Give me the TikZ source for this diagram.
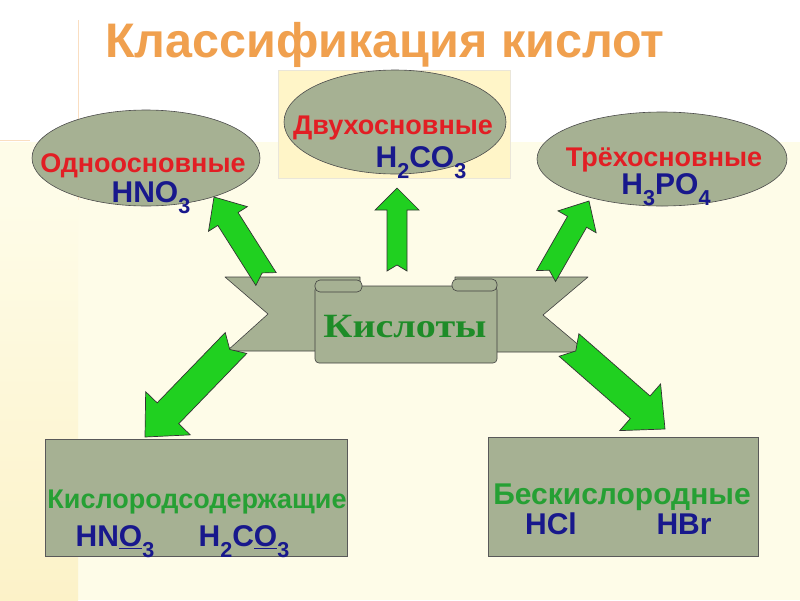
\documentclass[tikz,border=0pt]{standalone}
\usepackage{fontspec}
\setmainfont{Liberation Sans}
\newfontfamily\bannerfont{Liberation Serif}
\usepackage{graphicx}
\usetikzlibrary{positioning,shapes.geometric,calc}

\definecolor{sage}{RGB}{166,177,147}
\definecolor{cream}{RGB}{254,252,232}
\definecolor{paleyellow}{RGB}{252,242,200}
\definecolor{titleorange}{RGB}{240,160,78}
\definecolor{kindred}{RGB}{226,30,36}
\definecolor{navy}{RGB}{24,24,140}
\definecolor{acidgreen}{RGB}{38,160,52}
\definecolor{bannergreen}{RGB}{30,140,40}
\definecolor{arrowgreen}{RGB}{32,208,32}
\definecolor{boxyellow}{RGB}{255,245,200}

% subscript of a formula
\newcommand{\ix}[1]{\raisebox{-0.38em}{\scalebox{0.72}{#1}}}

% notched block arrow: tail, tip, shaft half width, head half width, head length
\newcommand{\greenarrow}[5]{%
  \coordinate (ga-b) at ($(#2)!#5!(#1)$);
  \draw[fatarrow]
    ($(#1)!#3!90:(#2)$) -- ($(ga-b)!#3!90:(#2)$) -- ($(ga-b)!#4!90:(#2)$) -- (#2)
    -- ($(ga-b)!#4!-90:(#2)$) -- ($(ga-b)!#3!-90:(#2)$) -- ($(#1)!#3!-90:(#2)$)
    -- ($(#1)!0.6*#3!(#2)$) -- cycle;
}

\tikzset{
  kind/.style={ellipse,draw=black!70,fill=sage,line width=0.6pt,inner sep=0pt},
  group/.style={rectangle,draw=black!65,fill=sage,line width=0.6pt,inner sep=0pt},
  kindname/.style={anchor=base,inner sep=0pt,text=kindred,font=\bfseries\fontsize{27}{27}\selectfont},
  formula/.style={anchor=base,inner sep=0pt,text=navy,font=\bfseries\fontsize{30}{30}\selectfont},
  groupname/.style={anchor=base,inner sep=0pt,text=acidgreen,font=\bfseries\fontsize{27}{27}\selectfont},
  bannerpart/.style={draw=black!75,fill=sage,line width=0.6pt,line join=round},
  fatarrow/.style={draw=black!80,fill=arrowgreen,line width=0.7pt,line join=miter}
}

\begin{document}
\begin{tikzpicture}[x=1pt,y=-1pt]
  \useasboundingbox (0,0) rectangle (800,600);
  % background
  \fill[white] (0,0) rectangle (800,600);
  \fill[cream] (0,142) rectangle (800,600);
  \shade[top color=cream,bottom color=paleyellow] (0,200) rectangle (78,600);
  \draw[titleorange!35,line width=0.8pt] (78,20) -- (78,200);
  \draw[titleorange!35,line width=0.8pt] (0,140) -- (30,140);

  % title
  \node[anchor=base,text=titleorange,font=\bfseries\fontsize{48.5}{48.5}\selectfont] (title) at (385,57) {Классификация кислот};

  % upper row
  \node[rectangle,draw=paleyellow!80!black!40,fill=boxyellow,minimum width=232pt,minimum height=108pt] (dibox) at (394,124) {};
  \node[kind,minimum width=228pt,minimum height=96pt] (mono) at (146,158) {};
  \node[kind,minimum width=222pt,minimum height=104pt] (di) at (395,122) {};
  \node[kind,minimum width=250pt,minimum height=94pt] (tri) at (662,159) {};

  \node[kindname] (mononame) at (143,172) {Одноосновные};
  \node[formula] (monoacid) at (151,202) {HNO\ix{3}};
  \node[kindname] (diname) at (393,134) {Двухосновные};
  \node[formula] (diacid) at (421,167) {H\ix{2}CO\ix{3}};
  \node[kindname] (triname) at (664,166) {Трёхосновные};
  \node[formula] (triacid) at (666,194) {H\ix{3}PO\ix{4}};

  % lower row
  \node[group,minimum width=302pt,minimum height=117pt] (oxo) at (196,498) {};
  \node[group,minimum width=270pt,minimum height=119pt] (nonoxo) at (623,497) {};

  \node[groupname] (oxoname) at (197,508) {Кислородсодержащие};
  \node[formula] (oxoacid1) at (115,546) {HN\underline{O}\ix{3}};
  \node[formula] (oxoacid2) at (244,546) {H\ix{2}C\underline{O}\ix{3}};
  \node[groupname,font=\bfseries\fontsize{30}{30}\selectfont] (nonoxoname) at (622,504) {Бескислородные};
  \node[formula] (nonoxoacid1) at (551,534) {HCl};
  \node[formula] (nonoxoacid2) at (684,534) {HBr};

  % banner
  \draw[bannerpart] (225,277) -- (360,277) -- (360,351) -- (227,351) -- (268,314) -- cycle;
  \draw[bannerpart] (588,277) -- (455,277) -- (455,352) -- (587,352) -- (543,315) -- cycle;
  \draw[bannerpart,rounded corners=4pt] (315,286) rectangle (497,363);
  \draw[bannerpart,rounded corners=5pt] (315,280) rectangle (362,292);
  \draw[bannerpart,rounded corners=5pt] (452,279) rectangle (497,291);
  \node[text=bannergreen,font=\bannerfont\bfseries\fontsize{34}{34}\selectfont] (acids) at (405,327) {\scalebox{1.18}[1]{Кислоты}};

  % arrows
  \coordinate (up-l-tail) at (266,279);  \coordinate (up-l-tip) at (214,197);
  \coordinate (up-m-tail) at (397,271);  \coordinate (up-m-tip) at (397,188);
  \coordinate (up-r-tail) at (546,276);  \coordinate (up-r-tip) at (589,201);
  \coordinate (dn-l-tail) at (236,343);  \coordinate (dn-l-tip) at (145,437);
  \coordinate (dn-r-tail) at (569,345);  \coordinate (dn-r-tip) at (665,429);
  \greenarrow{up-l-tail}{up-l-tip}{12pt}{23pt}{26pt}
  \greenarrow{up-m-tail}{up-m-tip}{10pt}{22pt}{22pt}
  \greenarrow{up-r-tail}{up-r-tip}{11pt}{22pt}{24pt}
  \greenarrow{dn-l-tail}{dn-l-tip}{15pt}{31pt}{33pt}
  \greenarrow{dn-r-tail}{dn-r-tip}{15pt}{31pt}{33pt}
\end{tikzpicture}
\end{document}
